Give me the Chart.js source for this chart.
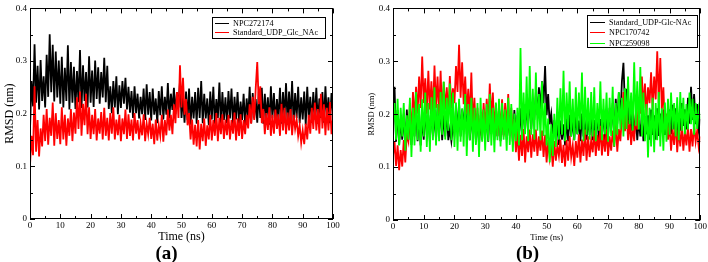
<!DOCTYPE html>
<html>
<head>
<meta charset="utf-8">
<script src="https://cdn.jsdelivr.net/npm/chart.js@4.4.0/dist/chart.umd.min.js"></script>
<style>
body { margin: 0; background: #fff; width: 708px; height: 262px; overflow: hidden; position: relative; }
canvas { position: absolute; top: 0; }
#chartA { left: 0; }
#chartB { left: 354px; }
</style>
</head>
<body>
<canvas id="chartA" width="354" height="262"></canvas>
<canvas id="chartB" width="354" height="262"></canvas>
<script>
// time axis: one value every 0.5 ns, 0 -> 100 ns
var timeStep = 0.5;
var timeTicks = [0, 10, 20, 30, 40, 50, 60, 70, 80, 90, 100];
var rmsdTicks = [0, 0.1, 0.2, 0.3, 0.4];

// panel (a)
var npc272174 = [
  0.170, 0.262, 0.214, 0.332, 0.221, 0.291, 0.208, 0.302, 0.224, 0.271,
  0.212, 0.312, 0.232, 0.351, 0.241, 0.331, 0.223, 0.318, 0.231, 0.301,
  0.219, 0.308, 0.212, 0.287, 0.224, 0.330, 0.208, 0.298, 0.221, 0.289,
  0.209, 0.281, 0.222, 0.321, 0.211, 0.292, 0.224, 0.279, 0.212, 0.309,
  0.221, 0.282, 0.213, 0.301, 0.228, 0.288, 0.219, 0.279, 0.231, 0.306,
  0.222, 0.291, 0.209, 0.252, 0.201, 0.262, 0.212, 0.271, 0.199, 0.254,
  0.211, 0.262, 0.219, 0.268, 0.208, 0.251, 0.202, 0.243, 0.192, 0.252,
  0.201, 0.238, 0.191, 0.232, 0.199, 0.248, 0.188, 0.256, 0.198, 0.241,
  0.187, 0.248, 0.198, 0.229, 0.182, 0.243, 0.197, 0.252, 0.189, 0.232,
  0.198, 0.258, 0.191, 0.238, 0.207, 0.249, 0.199, 0.241, 0.212, 0.262,
  0.192, 0.231, 0.183, 0.242, 0.188, 0.248, 0.179, 0.232, 0.191, 0.241,
  0.181, 0.249, 0.192, 0.262, 0.182, 0.238, 0.191, 0.229, 0.178, 0.242,
  0.189, 0.251, 0.181, 0.228, 0.192, 0.259, 0.179, 0.241, 0.188, 0.231,
  0.182, 0.243, 0.191, 0.248, 0.179, 0.232, 0.189, 0.241, 0.181, 0.223,
  0.188, 0.238, 0.179, 0.229, 0.192, 0.251, 0.182, 0.239, 0.191, 0.228,
  0.183, 0.242, 0.192, 0.249, 0.181, 0.238, 0.189, 0.231, 0.179, 0.252,
  0.191, 0.239, 0.182, 0.228, 0.188, 0.249, 0.181, 0.241, 0.192, 0.258,
  0.183, 0.242, 0.189, 0.262, 0.181, 0.239, 0.192, 0.251, 0.182, 0.231,
  0.189, 0.242, 0.178, 0.251, 0.191, 0.232, 0.183, 0.241, 0.189, 0.249,
  0.181, 0.229, 0.192, 0.241, 0.183, 0.252, 0.191, 0.231, 0.182, 0.239,
  0.201
];
var standardA = [
  0.102, 0.158, 0.121, 0.252, 0.128, 0.188, 0.119, 0.172, 0.138, 0.198,
  0.148, 0.209, 0.141, 0.192, 0.158, 0.221, 0.139, 0.201, 0.152, 0.188,
  0.142, 0.212, 0.151, 0.198, 0.139, 0.191, 0.158, 0.209, 0.148, 0.202,
  0.162, 0.231, 0.171, 0.242, 0.158, 0.219, 0.178, 0.238, 0.161, 0.212,
  0.152, 0.198, 0.161, 0.209, 0.149, 0.191, 0.162, 0.203, 0.151, 0.211,
  0.158, 0.192, 0.149, 0.201, 0.162, 0.212, 0.151, 0.189, 0.159, 0.198,
  0.148, 0.191, 0.161, 0.208, 0.152, 0.199, 0.158, 0.189, 0.149, 0.201,
  0.162, 0.188, 0.151, 0.182, 0.159, 0.199, 0.148, 0.181, 0.161, 0.192,
  0.152, 0.181, 0.142, 0.189, 0.149, 0.178, 0.158, 0.198, 0.147, 0.188,
  0.159, 0.208, 0.168, 0.198, 0.161, 0.218, 0.182, 0.241, 0.192, 0.292,
  0.212, 0.268, 0.198, 0.228, 0.178, 0.201, 0.151, 0.189, 0.141, 0.179,
  0.138, 0.188, 0.132, 0.181, 0.148, 0.191, 0.139, 0.178, 0.151, 0.198,
  0.149, 0.188, 0.158, 0.201, 0.148, 0.192, 0.161, 0.199, 0.152, 0.189,
  0.159, 0.198, 0.151, 0.188, 0.162, 0.202, 0.149, 0.191, 0.158, 0.199,
  0.152, 0.188, 0.161, 0.198, 0.172, 0.218, 0.181, 0.232, 0.188, 0.249,
  0.298, 0.218, 0.252, 0.182, 0.209, 0.161, 0.201, 0.169, 0.212, 0.158,
  0.198, 0.162, 0.208, 0.171, 0.199, 0.158, 0.219, 0.168, 0.211, 0.161,
  0.202, 0.168, 0.209, 0.159, 0.198, 0.171, 0.189, 0.158, 0.178, 0.145,
  0.168, 0.142, 0.181, 0.151, 0.198, 0.162, 0.211, 0.171, 0.221, 0.168,
  0.209, 0.162, 0.238, 0.172, 0.218, 0.159, 0.211, 0.168, 0.222, 0.161,
  0.191
];

// panel (b)
var standardB = [
  0.172, 0.252, 0.148, 0.208, 0.142, 0.191, 0.152, 0.201, 0.139, 0.209,
  0.151, 0.198, 0.142, 0.189, 0.158, 0.212, 0.149, 0.201, 0.141, 0.192,
  0.152, 0.209, 0.161, 0.198, 0.148, 0.218, 0.159, 0.201, 0.151, 0.212,
  0.162, 0.219, 0.151, 0.198, 0.158, 0.209, 0.151, 0.171, 0.149, 0.178,
  0.161, 0.212, 0.169, 0.221, 0.158, 0.209, 0.171, 0.228, 0.162, 0.212,
  0.151, 0.198, 0.162, 0.209, 0.149, 0.201, 0.141, 0.192, 0.152, 0.209,
  0.159, 0.201, 0.148, 0.212, 0.162, 0.219, 0.151, 0.198, 0.158, 0.211,
  0.149, 0.202, 0.161, 0.209, 0.152, 0.191, 0.159, 0.201, 0.148, 0.208,
  0.161, 0.198, 0.152, 0.211, 0.162, 0.219, 0.171, 0.209, 0.182, 0.231,
  0.172, 0.221, 0.189, 0.242, 0.198, 0.251, 0.209, 0.262, 0.221, 0.291,
  0.198, 0.238, 0.181, 0.201, 0.162, 0.189, 0.151, 0.181, 0.142, 0.188,
  0.152, 0.181, 0.141, 0.192, 0.149, 0.199, 0.158, 0.189, 0.151, 0.201,
  0.162, 0.188, 0.149, 0.201, 0.158, 0.181, 0.152, 0.191, 0.161, 0.198,
  0.151, 0.189, 0.162, 0.199, 0.149, 0.191, 0.158, 0.209, 0.151, 0.201,
  0.159, 0.212, 0.168, 0.221, 0.161, 0.229, 0.182, 0.241, 0.188, 0.262,
  0.297, 0.212, 0.248, 0.181, 0.221, 0.169, 0.209, 0.162, 0.198, 0.151,
  0.189, 0.158, 0.201, 0.149, 0.191, 0.162, 0.198, 0.152, 0.209, 0.161,
  0.198, 0.152, 0.211, 0.159, 0.201, 0.168, 0.209, 0.161, 0.198, 0.172,
  0.209, 0.162, 0.218, 0.171, 0.211, 0.158, 0.201, 0.169, 0.221, 0.178,
  0.209, 0.171, 0.231, 0.182, 0.252, 0.189, 0.238, 0.181, 0.219, 0.172,
  0.191
];
var npc170742 = [
  0.121, 0.148, 0.102, 0.141, 0.094, 0.132, 0.101, 0.151, 0.109, 0.162,
  0.149, 0.221, 0.158, 0.242, 0.189, 0.252, 0.201, 0.271, 0.212, 0.309,
  0.221, 0.268, 0.201, 0.282, 0.209, 0.262, 0.198, 0.292, 0.212, 0.271,
  0.201, 0.282, 0.191, 0.261, 0.209, 0.251, 0.198, 0.272, 0.211, 0.249,
  0.221, 0.291, 0.242, 0.331, 0.231, 0.298, 0.219, 0.271, 0.201, 0.248,
  0.191, 0.279, 0.178, 0.231, 0.158, 0.212, 0.151, 0.198, 0.162, 0.221,
  0.171, 0.229, 0.178, 0.258, 0.189, 0.241, 0.168, 0.219, 0.159, 0.212,
  0.171, 0.228, 0.158, 0.221, 0.169, 0.238, 0.161, 0.212, 0.148, 0.191,
  0.128, 0.168, 0.112, 0.161, 0.121, 0.172, 0.109, 0.158, 0.128, 0.171,
  0.118, 0.162, 0.129, 0.171, 0.121, 0.158, 0.131, 0.169, 0.119, 0.161,
  0.109, 0.151, 0.118, 0.142, 0.101, 0.149, 0.112, 0.141, 0.121, 0.152,
  0.108, 0.142, 0.101, 0.151, 0.112, 0.159, 0.119, 0.141, 0.102, 0.149,
  0.118, 0.162, 0.109, 0.152, 0.121, 0.171, 0.112, 0.158, 0.119, 0.151,
  0.128, 0.169, 0.121, 0.161, 0.131, 0.178, 0.122, 0.162, 0.129, 0.171,
  0.121, 0.158, 0.131, 0.169, 0.138, 0.181, 0.129, 0.172, 0.149, 0.198,
  0.242, 0.168, 0.211, 0.151, 0.189, 0.142, 0.178, 0.149, 0.201, 0.171,
  0.232, 0.201, 0.271, 0.212, 0.258, 0.198, 0.251, 0.221, 0.279, 0.209,
  0.271, 0.228, 0.319, 0.221, 0.306, 0.209, 0.251, 0.171, 0.201, 0.152,
  0.181, 0.131, 0.172, 0.142, 0.189, 0.128, 0.171, 0.139, 0.181, 0.131,
  0.168, 0.141, 0.178, 0.129, 0.172, 0.139, 0.181, 0.148, 0.169, 0.138,
  0.158
];
var npc259098 = [
  0.181, 0.221, 0.152, 0.229, 0.141, 0.212, 0.158, 0.221, 0.131, 0.198,
  0.152, 0.231, 0.119, 0.212, 0.141, 0.242, 0.151, 0.219, 0.129, 0.228,
  0.158, 0.241, 0.138, 0.221, 0.129, 0.232, 0.151, 0.251, 0.141, 0.219,
  0.149, 0.242, 0.161, 0.262, 0.152, 0.231, 0.169, 0.258, 0.151, 0.241,
  0.138, 0.222, 0.131, 0.229, 0.148, 0.211, 0.139, 0.238, 0.121, 0.219,
  0.151, 0.231, 0.129, 0.212, 0.142, 0.221, 0.119, 0.231, 0.148, 0.209,
  0.131, 0.219, 0.149, 0.238, 0.141, 0.212, 0.128, 0.222, 0.151, 0.229,
  0.139, 0.221, 0.152, 0.209, 0.131, 0.231, 0.142, 0.219, 0.129, 0.201,
  0.149, 0.212, 0.141, 0.325, 0.151, 0.241, 0.162, 0.271, 0.149, 0.291,
  0.161, 0.248, 0.152, 0.279, 0.169, 0.238, 0.151, 0.262, 0.159, 0.221,
  0.141, 0.192, 0.109, 0.181, 0.121, 0.201, 0.138, 0.231, 0.152, 0.249,
  0.161, 0.282, 0.149, 0.241, 0.171, 0.262, 0.158, 0.229, 0.151, 0.251,
  0.162, 0.241, 0.171, 0.279, 0.149, 0.252, 0.161, 0.231, 0.152, 0.242,
  0.158, 0.251, 0.149, 0.221, 0.169, 0.262, 0.151, 0.229, 0.162, 0.241,
  0.148, 0.231, 0.159, 0.252, 0.139, 0.221, 0.161, 0.242, 0.171, 0.231,
  0.158, 0.249, 0.172, 0.271, 0.181, 0.241, 0.169, 0.298, 0.178, 0.262,
  0.171, 0.289, 0.158, 0.241, 0.149, 0.219, 0.118, 0.212, 0.139, 0.231,
  0.128, 0.221, 0.151, 0.242, 0.139, 0.211, 0.131, 0.222, 0.148, 0.229,
  0.161, 0.241, 0.171, 0.221, 0.158, 0.232, 0.151, 0.242, 0.169, 0.231,
  0.162, 0.219, 0.171, 0.241, 0.181, 0.229, 0.161, 0.221, 0.172, 0.209,
  0.191
];

Chart.defaults.font.family = "'Liberation Serif', 'Times New Roman', serif";
Chart.defaults.color = '#000';

function toPoints(values) {
  return values.map(function (v, i) { return { x: i * timeStep, y: v }; });
}

function series(label, values, color, order) {
  return {
    label: label,
    data: toPoints(values),
    borderColor: color,
    borderWidth: 1.8,
    pointRadius: 0,
    tension: 0,
    order: order
  };
}

// grace style frame with inward ticks on all four sides
var innerTicks = {
  id: 'innerTicks',
  afterDatasetsDraw: function (chart) {
    var ctx = chart.ctx, a = chart.chartArea;
    var xs = chart.scales.x, ys = chart.scales.y;
    ctx.save();
    ctx.strokeStyle = '#000';
    ctx.lineWidth = 1;
    ctx.beginPath();
    for (var t = 0; t <= 100; t += 5) {
      var px = Math.round(xs.getPixelForValue(t)) + 0.5;
      var len = t % 10 === 0 ? 5 : 3;
      ctx.moveTo(px, a.bottom); ctx.lineTo(px, a.bottom - len);
      ctx.moveTo(px, a.top); ctx.lineTo(px, a.top + len);
    }
    for (var k = 0; k <= 8; k++) {
      var py = Math.round(ys.getPixelForValue(k * 0.05)) + 0.5;
      var ylen = k % 2 === 0 ? 5 : 3;
      ctx.moveTo(a.left, py); ctx.lineTo(a.left + ylen, py);
      ctx.moveTo(a.right, py); ctx.lineTo(a.right - ylen, py);
    }
    ctx.stroke();
    ctx.strokeRect(Math.round(a.left) + 0.5, Math.round(a.top) + 0.5,
      Math.round(a.width) - 1, Math.round(a.height) - 1);
    ctx.restore();
  }
};

// legend box drawn inside the plot, like xmgrace
var boxLegend = {
  id: 'boxLegend',
  afterDraw: function (chart, args, o) {
    var ctx = chart.ctx;
    ctx.save();
    ctx.fillStyle = '#fff';
    ctx.fillRect(o.x, o.y, o.w, o.h);
    ctx.strokeStyle = '#000';
    ctx.lineWidth = 1;
    ctx.strokeRect(o.x + 0.5, o.y + 0.5, o.w, o.h);
    ctx.font = o.size + "px 'Liberation Serif', serif";
    ctx.textBaseline = 'middle';
    chart.data.datasets.forEach(function (ds, i) {
      var yy = Math.round(o.y + o.first + i * o.row) + 0.5;
      ctx.strokeStyle = ds.borderColor;
      ctx.beginPath();
      ctx.moveTo(o.x + 3, yy);
      ctx.lineTo(o.x + 3 + o.line, yy);
      ctx.stroke();
      ctx.fillStyle = '#000';
      ctx.fillText(ds.label, o.x + o.text, yy);
    });
    ctx.restore();
  }
};

function makeChart(id, datasets, p) {
  return new Chart(document.getElementById(id), {
    type: 'line',
    data: { datasets: datasets },
    options: {
      responsive: false,
      animation: false,
      devicePixelRatio: 1,
      layout: { padding: { left: 0, right: p.padRight, top: 7, bottom: 0 } },
      plugins: {
        legend: { display: false },
        tooltip: { enabled: false },
        title: {
          display: true,
          text: p.title,
          position: 'bottom',
          padding: 0,
          font: { size: 19, weight: 'bold', lineHeight: 0.8 }
        },
        boxLegend: p.legend
      },
      scales: {
        x: {
          type: 'linear',
          min: 0,
          max: 100,
          afterBuildTicks: function (s) { s.ticks = timeTicks.map(function (v) { return { value: v }; }); },
          afterFit: function (s) { s.height = p.xHeight; },
          grid: { display: false, drawTicks: false },
          border: { display: false },
          ticks: { font: { size: p.tickSize }, padding: 1, maxRotation: 0, autoSkip: false },
          title: {
            display: true,
            text: 'Time (ns)',
            font: { size: p.titleSize },
            padding: { top: 0, bottom: p.xTitlePad }
          }
        },
        y: {
          min: 0,
          max: 0.4,
          afterBuildTicks: function (s) { s.ticks = rmsdTicks.map(function (v) { return { value: v }; }); },
          afterFit: function (s) { s.width = p.yWidth; },
          grid: { display: false, drawTicks: false },
          border: { display: false },
          ticks: { font: { size: p.tickSize }, padding: 3 },
          title: {
            display: true,
            text: 'RMSD (nm)',
            font: { size: p.titleSize },
            padding: { top: p.yTitlePad, bottom: 0 }
          }
        }
      }
    },
    plugins: [innerTicks, boxLegend]
  });
}

makeChart('chartA', [
  series('NPC272174', npc272174, '#000000', 2),
  series('Standard_UDP_Glc_NAc', standardA, '#ff0000', 1)
], {
  title: '(a)', padRight: 21, xHeight: 27.8, yWidth: 30,
  tickSize: 9, titleSize: 12, xTitlePad: 2.6, yTitlePad: 2.3,
  legend: { x: 212, y: 17, w: 113, h: 21, first: 6, row: 9, line: 14, text: 21, size: 8.2 }
});

makeChart('chartB', [
  series('Standard_UDP-Glc-NAc', standardB, '#000000', 3),
  series('NPC170742', npc170742, '#ff0000', 2),
  series('NPC259098', npc259098, '#00ff00', 1)
], {
  title: '(b)', padRight: 7, xHeight: 26.8, yWidth: 39,
  tickSize: 9, titleSize: 8.5, xTitlePad: 4.4, yTitlePad: 13,
  legend: { x: 233, y: 15, w: 110, h: 32, first: 7, row: 10.3, line: 15, text: 22, size: 8.2 }
});
</script>
</body>
</html>
